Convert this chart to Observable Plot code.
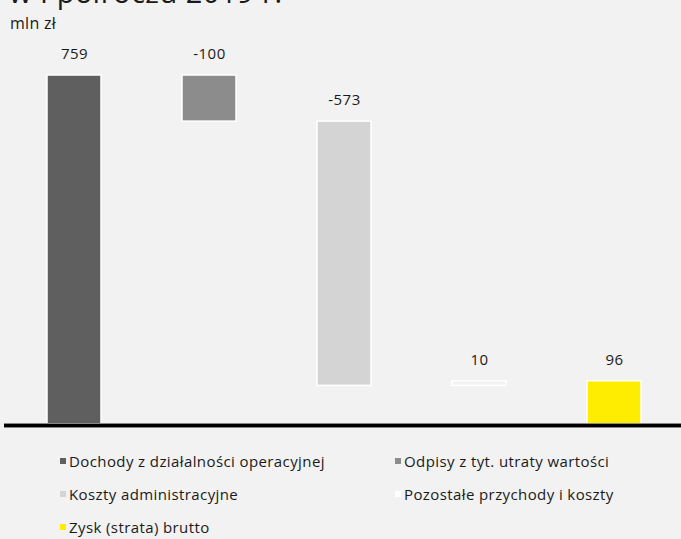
<!DOCTYPE html>
<html>
<head>
<meta charset="utf-8">
<script src="https://cdn.jsdelivr.net/npm/d3@7"></script>
<script src="https://cdn.jsdelivr.net/npm/@observablehq/plot@0.6"></script>
<style>
  html, body { margin: 0; padding: 0; background: #f2f2f2; overflow: hidden; }
  body { width: 681px; height: 539px; position: relative; font-family: "Open Sans", "DejaVu Sans", sans-serif; color: #1a1a1a; }
  #title { position: absolute; left: 9px; top: -25px; font-size: 29px; line-height: 34px; white-space: nowrap; letter-spacing: 0.5px; }
  #unit { position: absolute; left: 10px; top: 13px; font-size: 16px; line-height: 20px; letter-spacing: 0.3px; }
  #chart { position: absolute; left: 0; top: 0; }
  .leg { position: absolute; font-size: 15px; letter-spacing: 0.4px; white-space: nowrap; display: flex; align-items: center; }
  .sw { width: 6px; height: 6px; margin-right: 3px; display: inline-block; }
</style>
</head>
<body>
<div id="title">w I półroczu 2019 r.</div>
<div id="unit">mln zł</div>
<div id="chart"></div>
<div id="legend"></div>
<script>
const categories = [
  "Dochody z działalności operacyjnej",
  "Odpisy z tyt. utraty wartości",
  "Koszty administracyjne",
  "Pozostałe przychody i koszty",
  "Zysk (strata) brutto"
];
const values = [759, -100, -573, 10, 96];
const isTotal = [false, false, false, false, true];
const colors = ["#5f5f5f", "#8c8c8c", "#d4d4d4", "#f2f2f2", "#ffed00"];
const swatchColors = ["#5f5f5f", "#8c8c8c", "#d4d4d4", "#ffffff", "#ffed00"];

let run = 0;
const rows = categories.map((c, i) => {
  let y1, y2;
  if (isTotal[i]) { y1 = 0; y2 = values[i]; run = values[i]; }
  else { y1 = run; y2 = run + values[i]; run = y2; }
  return {cat: c, y1, y2, top: Math.max(y1, y2), label: String(values[i])};
});

const chart = Plot.plot({
  width: 681,
  height: 440,
  marginLeft: 4,
  marginRight: 0,
  marginTop: 0,
  marginBottom: 15,
  style: {background: "transparent", fontFamily: "'Open Sans', 'DejaVu Sans', sans-serif", fontSize: "15px", color: "#1a1a1a", letterSpacing: "0.5px"},
  x: {domain: categories, range: [4, 684.5], paddingInner: 0.6, paddingOuter: 0.305, axis: null},
  y: {domain: [0, 759], range: [425, 75], axis: null},
  color: {domain: categories, range: colors},
  marks: [
    Plot.rectY(rows, {x: "cat", y1: "y1", y2: "y2", fill: "cat", stroke: "white", strokeWidth: 1.5}),
    Plot.text(rows, {x: "cat", y: "top", text: "label", dy: -21, fill: "#1a1a1a", fontSize: 15}),
    Plot.ruleY([0], {stroke: "#888", strokeWidth: 5}),
    Plot.ruleY([0], {stroke: "#000", strokeWidth: 3})
  ]
});
document.getElementById("chart").appendChild(chart);

const legendPos = [[60, 461], [395, 461], [60, 494], [395, 494], [60, 527]];
const legend = document.getElementById("legend");
categories.forEach((c, i) => {
  const d = document.createElement("div");
  d.className = "leg";
  d.style.left = legendPos[i][0] + "px";
  d.style.top = (legendPos[i][1] - 9) + "px";
  d.style.height = "18px";
  const s = document.createElement("span");
  s.className = "sw";
  s.style.background = swatchColors[i];
  d.appendChild(s);
  d.appendChild(document.createTextNode(c));
  legend.appendChild(d);
});
</script>
</body>
</html>
